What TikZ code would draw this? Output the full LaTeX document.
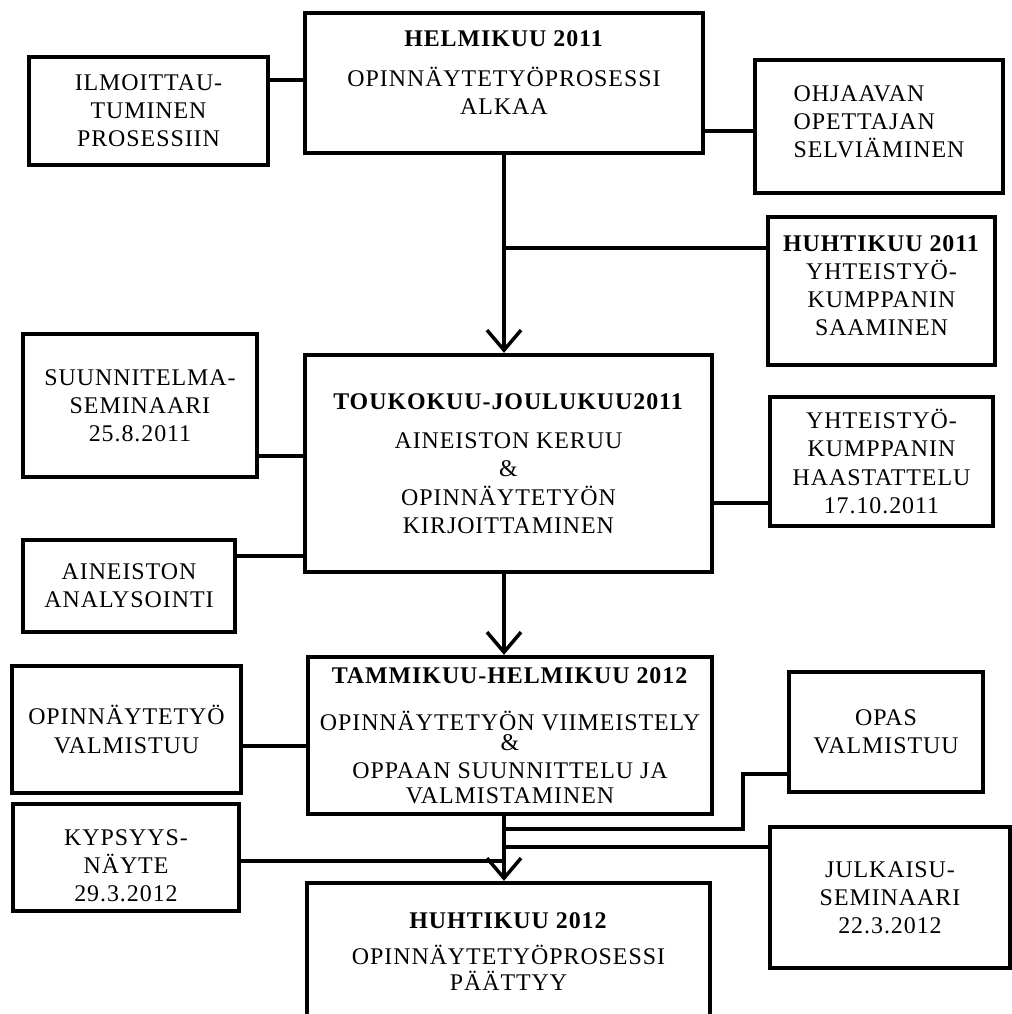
\documentclass[tikz,border=0pt]{standalone}
\usepackage{fontspec}
\setmainfont{Liberation Serif}[LetterSpace=4]
\usetikzlibrary{arrows.meta}

\tikzset{
  box/.style={draw, line width=1.2pt, inner sep=0pt, align=center,
    font=\fontsize{6.8}{8}\selectfont},
  link/.style={line width=1pt},
  flow/.style={line width=1pt, -{Straight Barb[length=2mm,width=3.4mm]}},
}

\begin{document}
\begin{tikzpicture}[x=0.01cm,y=-0.01cm]
\useasboundingbox (0,0) rectangle (1012,1014);
\clip (0,0) rectangle (1012,1014);
% main phases
\node[box,minimum width=3.98cm,minimum height=1.40cm] (start) at (504,83)
  {\textbf{HELMIKUU 2011}\\[3.4pt] OPINNÄYTETYÖPROSESSI\\ ALKAA\\[-2pt]\mbox{}};
\node[box,minimum width=4.07cm,minimum height=2.17cm] (work) at (508.5,463.5)
  {\textbf{TOUKOKUU-JOULUKUU2011}\\[3.2pt] AINEISTON KERUU\\ \&\\ OPINNÄYTETYÖN\\ KIRJOITTAMINEN};
\node[box,minimum width=4.04cm,minimum height=1.57cm] (finish) at (510,735.5)
  {\textbf{TAMMIKUU-HELMIKUU 2012}\\[5.4pt] OPINNÄYTETYÖN VIIMEISTELY\\[-2.3pt] \&\\ OPPAAN SUUNNITTELU JA\\[-1pt] VALMISTAMINEN};
\node[box,minimum width=4.03cm,minimum height=1.37cm] (end) at (508.5,951.5)
  {\textbf{HUHTIKUU 2012}\\[2.3pt] OPINNÄYTETYÖPROSESSI\\[-0.7pt] PÄÄTTYY};
% side boxes
\node[box,minimum width=2.39cm,minimum height=1.08cm] (ilmo) at (148.5,111)
  {ILMOITTAU-\\ TUMINEN\\ PROSESSIIN};
\node[box,align=left,minimum width=2.48cm,minimum height=1.33cm] (ohjaaja) at (879,126.5)
  {OHJAAVAN\\ OPETTAJAN\\ SELVIÄMINEN\\[-5pt]\mbox{}};
\node[box,minimum width=2.27cm,minimum height=1.48cm] (kumppani) at (881.5,291)
  {\textbf{HUHTIKUU 2011}\\ YHTEISTYÖ-\\ KUMPPANIN\\ SAAMINEN\\[-5pt]\mbox{}};
\node[box,minimum width=2.34cm,minimum height=1.43cm] (suunsem) at (140,405.5)
  {SUUNNITELMA-\\ SEMINAARI\\ 25.8.2011};
\node[box,minimum width=2.12cm,minimum height=0.92cm] (analyysi) at (129,586)
  {AINEISTON\\ ANALYSOINTI};
\node[box,minimum width=2.23cm,minimum height=1.29cm] (haastattelu) at (881.5,461.5)
  {YHTEISTYÖ-\\ KUMPPANIN\\ HAASTATTELU\\ 17.10.2011};
\node[box,minimum width=2.29cm,minimum height=1.27cm] (valmis) at (126.5,729.5)
  {OPINNÄYTETYÖ\\ VALMISTUU};
\node[box,minimum width=2.26cm,minimum height=1.07cm] (kypsyys) at (126,857.5)
  {\mbox{}\\[1pt] KYPSYYS-\\ NÄYTE\\ 29.3.2012};
\node[box,minimum width=1.94cm,minimum height=1.20cm] (opas) at (886,732)
  {OPAS\\ VALMISTUU};
\node[box,minimum width=2.40cm,minimum height=1.41cm] (julkaisu) at (890,897.5)
  {JULKAISU-\\ SEMINAARI\\ 22.3.2012};
% junction points
\coordinate (spine) at (504,0);
\coordinate (j-ilmo) at (305,80);
\coordinate (j-ohjaaja) at (703,131);
\coordinate (j-kumppani) at (504,248);
\coordinate (j-suunsem) at (305,456);
\coordinate (j-analyysi) at (305,556);
\coordinate (j-haastattelu) at (712,503);
\coordinate (j-valmis) at (308,746);
\coordinate (j-opas) at (504,829);
\coordinate (opas-kink) at (743,774);
\coordinate (j-julkaisu) at (504,847);
\coordinate (j-kypsyys) at (504,861);
% flow
\draw[flow] (spine |- start.south) -- (spine |- work.north);
\draw[flow] (spine |- work.south) -- (spine |- finish.north);
\draw[flow] (spine |- finish.south) -- (spine |- end.north);
% links
\draw[link] (j-ilmo) -- (j-ilmo -| ilmo.east);
\draw[link] (j-ohjaaja) -- (j-ohjaaja -| ohjaaja.west);
\draw[link] (j-kumppani) -- (j-kumppani -| kumppani.west);
\draw[link] (j-suunsem) -- (j-suunsem -| suunsem.east);
\draw[link] (j-analyysi) -- (j-analyysi -| analyysi.east);
\draw[link] (j-haastattelu) -- (j-haastattelu -| haastattelu.west);
\draw[link] (j-valmis) -- (j-valmis -| valmis.east);
\draw[link] (j-opas) -| (opas-kink) -- (opas-kink -| opas.west);
\draw[link] (j-julkaisu) -- (j-julkaisu -| julkaisu.west);
\draw[link] (j-kypsyys) -- (j-kypsyys -| kypsyys.east);
\end{tikzpicture}
\end{document}
